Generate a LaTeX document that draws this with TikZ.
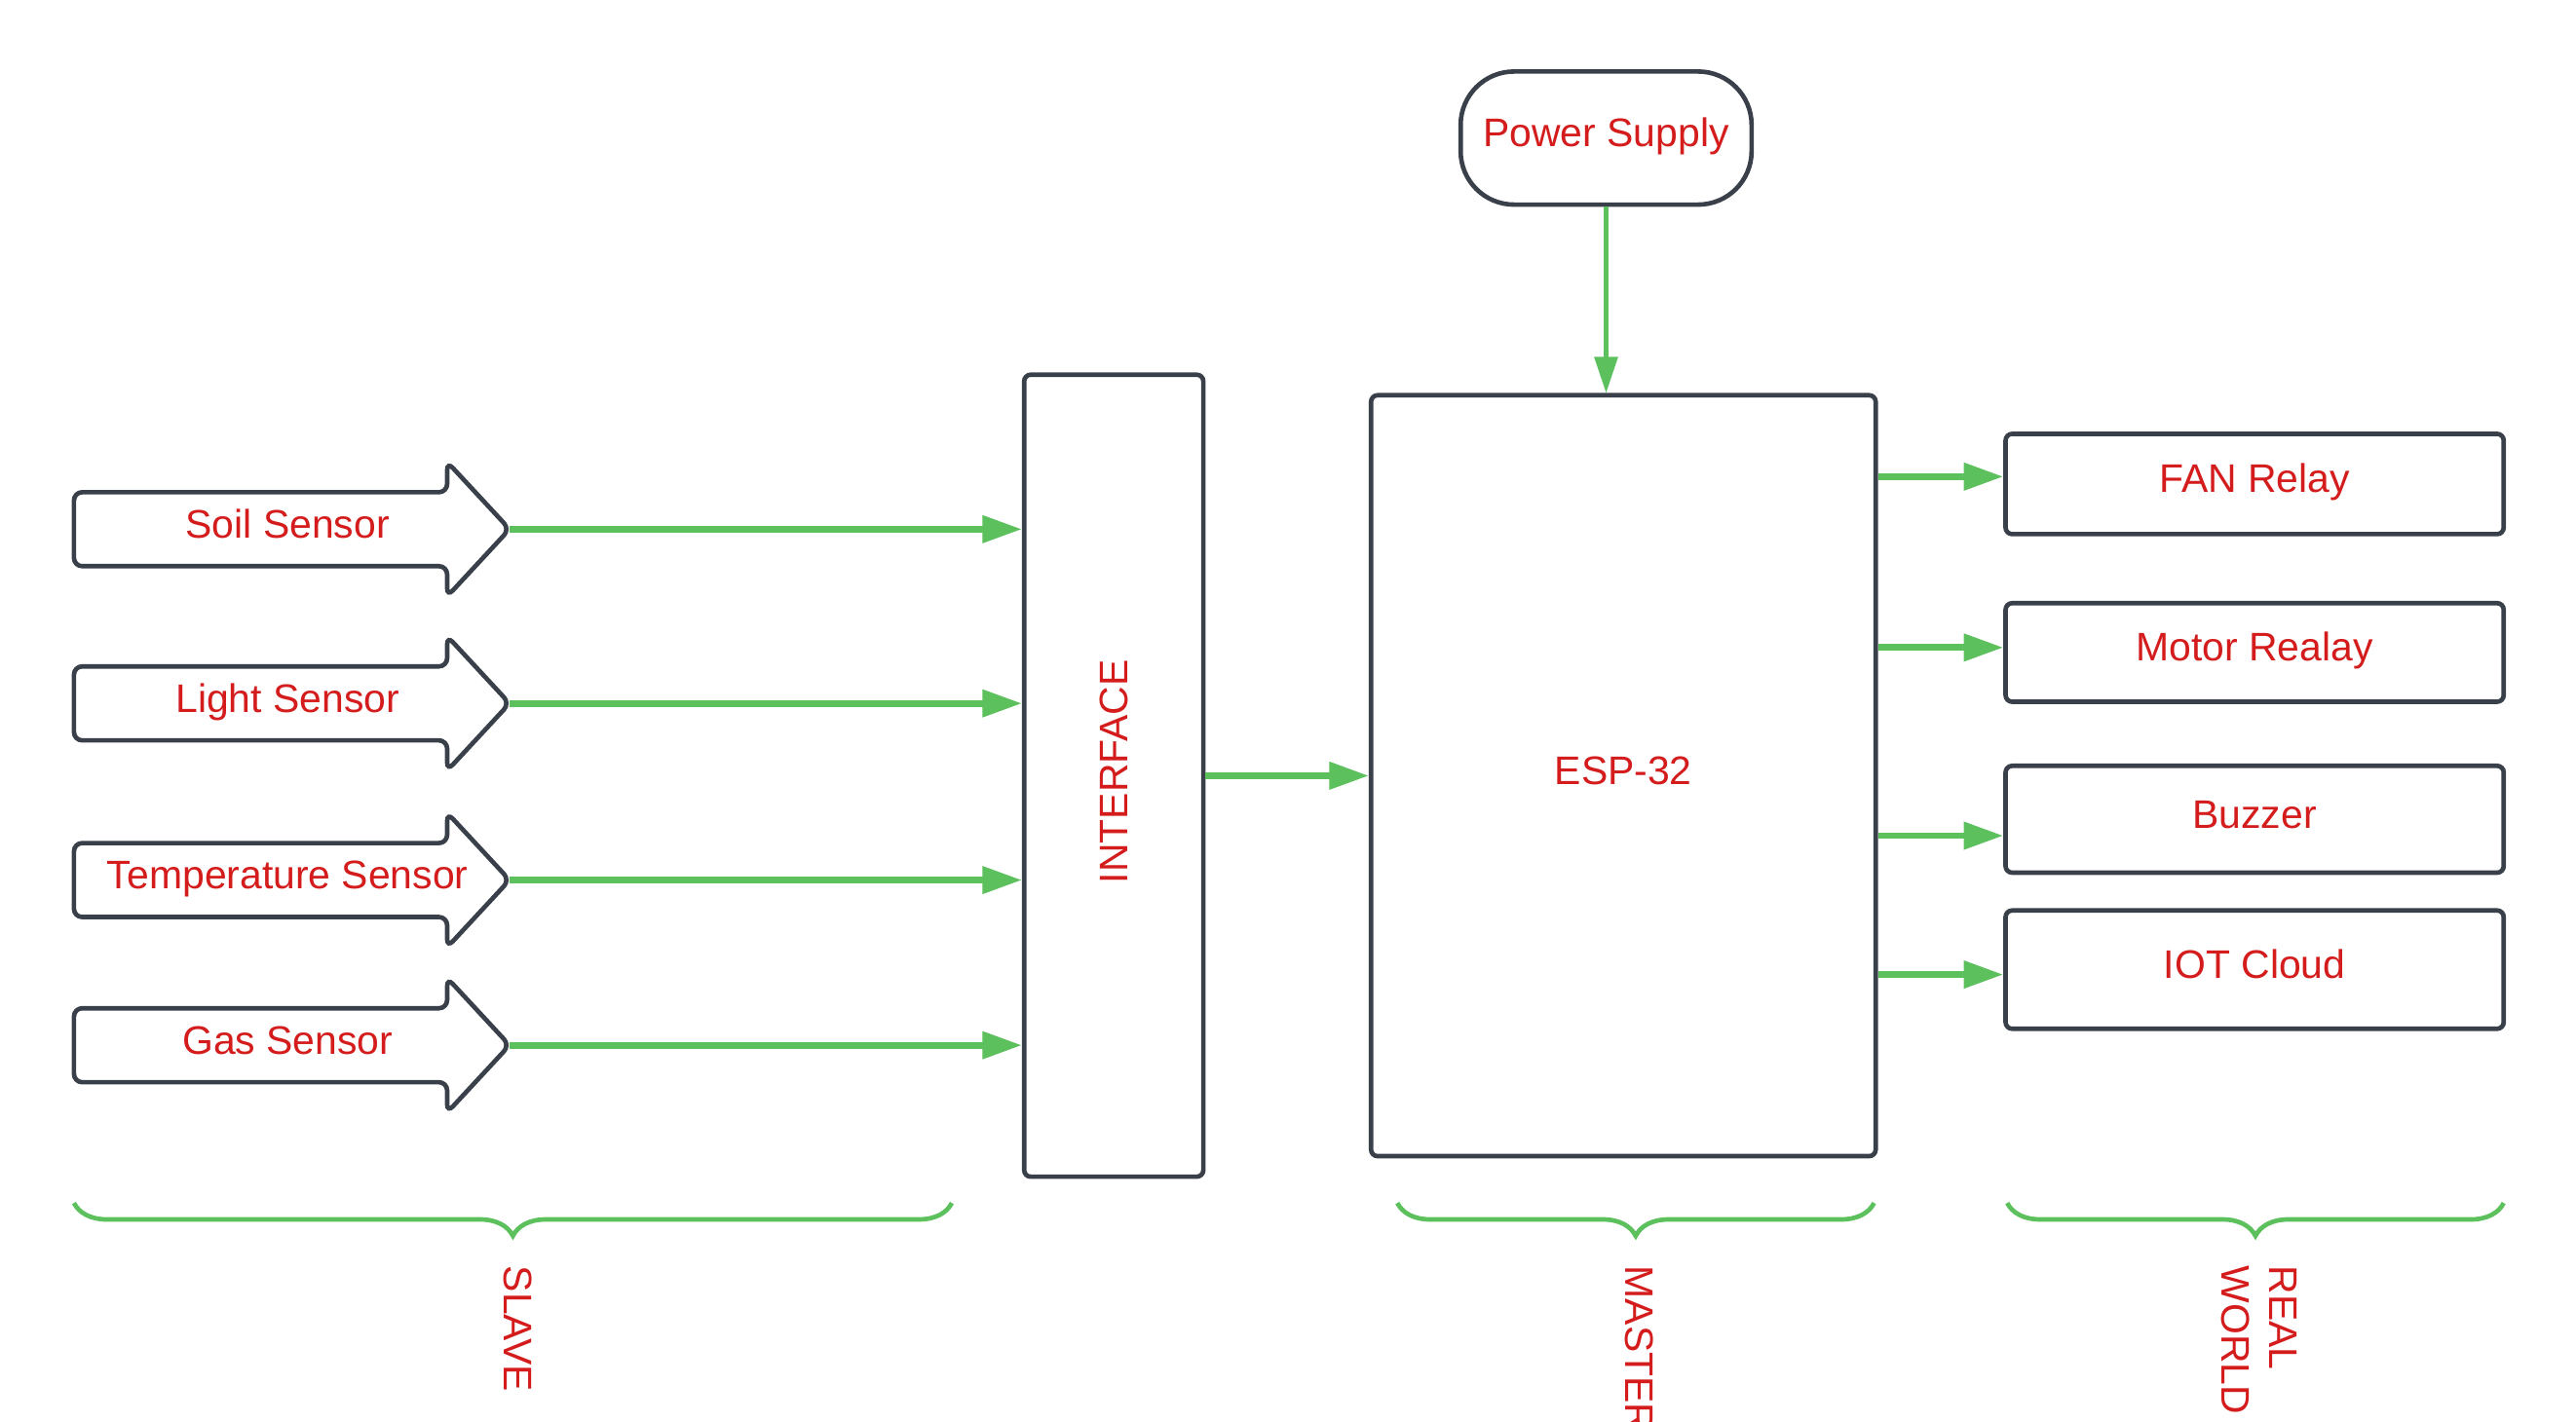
\documentclass[tikz,border=0pt]{standalone}
\usepackage{fontspec}
\setmainfont{Liberation Sans}
\usepackage{tikz}
\usetikzlibrary{
    positioning,
    arrows.meta,
    calc,
    decorations.pathreplacing
}
\definecolor{lineGray}{RGB}{58, 64, 74}
\definecolor{flowGreen}{RGB}{92, 192, 92}
\definecolor{labelRed}{RGB}{212, 28, 28}

\tikzset{
    caption/.style={text=labelRed, text height=3.5mm, text depth=1.4mm, inner sep=0pt},
    block/.style={caption, draw=lineGray, line width=0.55mm, rounded corners=0.8mm, fill=white},
    flow/.style={flowGreen, line width=0.8mm, -{Triangle[length=4.8mm, width=3.2mm]}},
    tag/.style={text=labelRed, rotate=-90, anchor=west, inner sep=0pt, align=left},
    group/.style={flowGreen, line width=0.55mm, decorate, decoration={brace, amplitude=4mm}}
}

\begin{document}
\begin{tikzpicture}[x=0.2mm, y=-0.2mm, font=\fontsize{13.8}{16.5}\selectfont]
        \path[use as bounding box, fill=white] (0, 0) rectangle (1567, 864.7);

        % Interface and controller
        \node[block, minimum width=21.8mm, minimum height=97.6mm] (iface) at (677.5, 472) {};
        \node[text=labelRed, rotate=90, xshift=0.5mm] (ifacelabel) at (iface.center) {INTERFACE};
        \node[block, minimum width=61.4mm, minimum height=92.6mm] (esp) at (987.5, 472) {ESP-32};
        \node[block, rounded corners=6.5mm, minimum width=35.4mm, minimum height=16.2mm] (power) at (977, 84) {Power Supply};

        % Sensors (arrow shapes)
        \foreach \name/\yc/\txt in {soil/322/Soil Sensor, light/428/Light Sensor,
                temp/535.5/Temperature Sensor, gas/636/Gas Sensor} {
            \draw[lineGray, line width=0.55mm, rounded corners=1mm, fill=white]
                (272, \yc-22.5) -- (45, \yc-22.5) -- (45, \yc+22.5) -- (272, \yc+22.5)
                -- (272, \yc+41) -- (310, \yc) -- (272, \yc-41) -- cycle;
            \coordinate (\name tip) at (310, \yc);
            \node[caption] (\name) at (175, \yc) {\txt};
            \draw[flow] (\name tip) -- (\name tip -| iface.west);
        }

        % Outputs
        \node[block, minimum width=60.6mm, minimum height=12.2mm] (fan) at (1371.5, 294.5) {FAN Relay};
        \node[block, minimum width=60.6mm, minimum height=12mm] (motor) at (1371.5, 397) {Motor Realay};
        \node[block, minimum width=60.6mm, minimum height=13mm] (buzzer) at (1371.5, 498.5) {Buzzer};
        \node[block, minimum width=60.6mm, minimum height=14.4mm] (cloud) at (1371.5, 590) {IOT Cloud};

        % Connections
        \draw[flow, line width=0.5mm, -{Triangle[length=4.4mm, width=2.8mm]}] (power.south) -- (power.south |- esp.north);
        \draw[flow] (iface.east) -- (esp.west);
        \coordinate (fanin) at ([yshift=0.9mm]fan.west);
        \coordinate (motorin) at ([yshift=0.6mm]motor.west);
        \coordinate (buzzerin) at ([yshift=-2mm]buzzer.west);
        \coordinate (cloudin) at ([yshift=-0.6mm]cloud.west);
        \draw[flow] (fanin -| esp.east) -- (fanin);
        \draw[flow] (motorin -| esp.east) -- (motorin);
        \draw[flow] (buzzerin -| esp.east) -- (buzzerin);
        \draw[flow] (cloudin -| esp.east) -- (cloudin);

        % Groups
        \draw[group] (579, 732) -- (45, 732);
        \draw[group] (1140, 732) -- (850, 732);
        \draw[group] (1523, 732) -- (1221, 732);
        \node[tag] (slave) at (315, 770) {SLAVE};
        \node[tag] (master) at (997, 770) {MASTER};
        \node[tag] (realworld) at (1374.5, 770) {REAL\\WORLD};
    \end{tikzpicture}
\end{document}
